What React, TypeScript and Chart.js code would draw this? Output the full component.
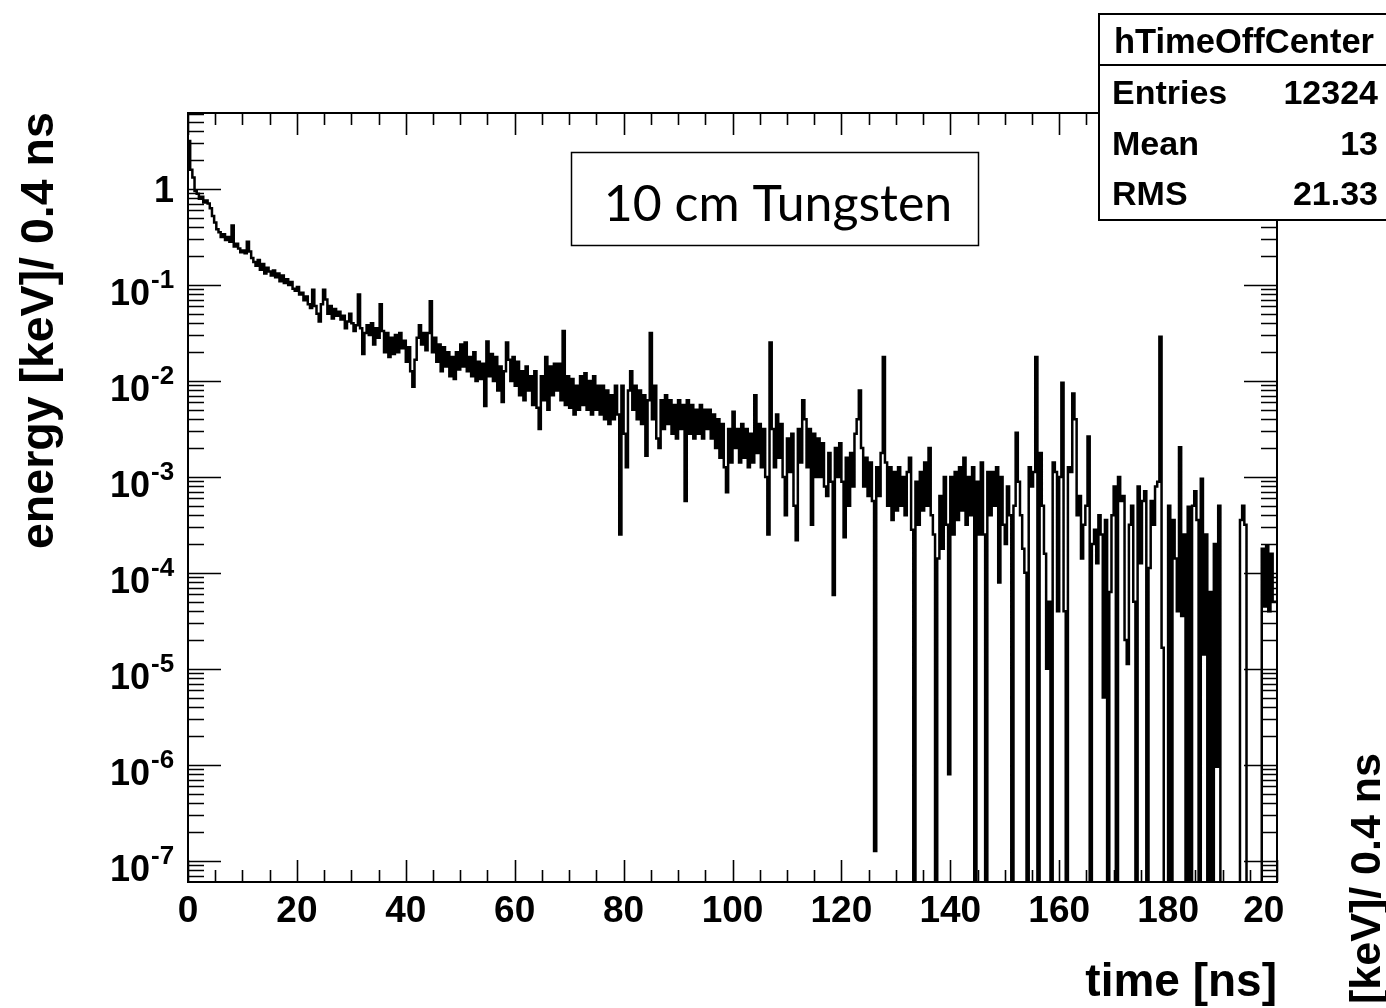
import React, { useEffect, useRef } from 'react';
import { Chart, registerables } from 'chart.js';

Chart.register(...registerables);

// ---- data -------------------------------------------------------------
// Histogram hTimeOffCenter: 500 bins of 0.4 ns from 0 to 200 ns.
// Values, written as log10(energy [keV] / 0.4 ns);
// null = empty bin.
const binWidth = 0.4;
const xMin = 0;
const xMax = 200;
const yMin = 6.4e-8;
const yMax = 6.2;
const emptyBinValue = 1e-12;

const energyLog10: (number | null)[] = [
  0.25, 0.5, 0.2, 0.12, -0.02, -0.05, -0.1, -0.08, -0.14, -0.12,
  -0.15, -0.2, -0.28, -0.35, -0.42, -0.45, -0.5, -0.47, -0.53, -0.5,
  -0.55, -0.38, -0.6, -0.57, -0.62, -0.66, -0.64, -0.67, -0.55, -0.65,
  -0.72, -0.76, -0.8, -0.74, -0.84, -0.78, -0.88, -0.82, -0.86, -0.9,
  -0.85, -0.92, -0.88, -0.96, -0.9, -0.98, -0.94, -1.0, -0.97, -1.04,
  -1.06, -1.02, -1.1, -1.08, -1.16, -1.12, -1.2, -1.24, -1.05, -1.22,
  -1.3, -1.38, -1.2, -1.05, -1.15, -1.3, -1.22, -1.35, -1.25, -1.32,
  -1.28, -1.36, -1.32, -1.45, -1.38, -1.3, -1.4, -1.48, -1.42, -1.1,
  -1.45, -1.72, -1.5, -1.42, -1.52, -1.4, -1.62, -1.45, -1.55, -1.2,
  -1.48, -1.7, -1.5, -1.75, -1.55, -1.72, -1.52, -1.7, -1.5, -1.66,
  -1.58, -1.8, -1.65, -1.9, -2.06, -1.78, -1.55, -1.42, -1.62, -1.5,
  -1.68, -1.5, -1.17, -1.7, -1.55, -1.8, -1.62, -1.9, -1.65, -1.85,
  -1.7, -1.95, -1.75, -1.98, -1.7, -1.88, -1.62, -1.85, -1.6, -1.9,
  -1.75, -1.95, -1.7, -2.0, -1.8, -1.98, -1.82, -2.26, -1.59, -1.95,
  -1.72, -2.0, -1.75, -2.1, -1.85, -2.22, -1.9, -1.6, -1.78, -2.0,
  -1.75, -2.05, -1.8, -2.15, -1.9, -2.2, -1.85, -2.1, -1.95, -2.25,
  -1.9, -2.28, -2.5, -1.95, -2.2, -1.75, -2.3, -1.85, -2.15, -1.82,
  -2.1, -1.82, -2.2, -1.48, -2.25, -1.95, -2.28, -1.98, -2.35, -2.05,
  -2.3, -1.95, -2.25, -1.92, -2.3, -2.0, -2.35, -1.95, -2.3, -2.05,
  -2.35, -2.05, -2.4, -2.1, -2.45, -2.15, -2.4, -2.05, -2.35, -3.6,
  -2.05, -2.55, -2.9, -2.1, -1.9, -2.3, -2.05, -2.4, -2.1, -2.45,
  -2.15, -2.78, -2.2, -1.5, -2.4, -2.05, -2.6, -2.7, -2.2, -2.5,
  -2.15, -2.45, -2.2, -2.55, -2.25, -2.6, -2.2, -2.5, -2.25, -3.25,
  -2.2, -2.55, -2.25, -2.6, -2.3, -2.55, -2.25, -2.6, -2.3, -2.5,
  -2.3, -2.6, -2.35, -2.7, -2.4, -2.8, -2.45, -2.9, -3.16, -2.5,
  -2.85, -2.32, -2.7, -2.5, -2.85, -2.45, -2.8, -2.5, -2.9, -2.55,
  -2.85, -2.15, -2.75, -2.45, -2.9, -2.5, -3.0, -3.6, -1.6, -2.5,
  -2.9, -2.35, -2.8, -2.45, -3.0, -3.4, -2.6, -2.95, -2.55, -3.3,
  -3.66, -2.5, -2.85, -2.2, -2.4, -2.9, -2.5, -3.5, -2.55, -3.0,
  -2.6, -3.0, -2.65, -3.1, -3.2, -2.75, -3.05, -4.23, -2.7, -3.0,
  -2.65, -3.05, -3.63, -2.8, -3.3, -2.75, -3.1, -2.55, -2.4, -2.1,
  -2.7, -3.1, -2.8, -3.2, -2.85, -3.25, -6.9, -2.9, -3.2, -2.75,
  -1.75, -2.85, -3.3, -2.9, -3.45, -2.95, -3.35, -2.9, -3.3, -3.0,
  -3.4, -2.95, -2.8, -3.55, null, -3.05, -3.5, -2.95, -3.35, -2.85,
  -3.3, -2.7, -3.4, -3.6, null, -3.85, -3.2, -3.75, -3.0, -3.5,
  -6.1, -3.0, -3.6, -2.95, -3.45, -2.9, -3.35, -2.8, -3.5, -3.0,
  -3.4, -2.9, null, -3.05, -3.6, -2.85, -3.6, null, -2.95, -3.4,
  -2.95, -3.3, -2.9, -4.1, -3.0, -3.5, -3.7, -3.1, -3.4, null,
  -3.3, -2.54, -3.05, -3.4, -3.75, -4.0, null, -2.9, -3.1, -2.95,
  -1.75, null, -2.75, -3.3, -3.8, -5.0, -4.3, null, -2.85, -2.95,
  -4.4, -3.0, -2.02, -4.4, null, -2.9, -2.95, -2.13, -2.4, -3.4,
  -3.2, -3.85, -3.5, -3.3, -2.58, null, -3.7, -3.55, -3.9, -3.4,
  -3.6, -5.3, -3.45, null, -4.2, -3.4, -3.1, null, -3.0, -3.25,
  -3.2, -4.7, -4.95, -3.5, -3.3, -4.3, null, -3.1, -3.9, -3.25,
  -3.15, null, -3.95, -3.25, -3.5, -3.1, -3.05, -1.54, -4.78, null,
  null, -3.3, null, -3.45, -3.85, -4.4, -2.69, -4.45, -3.6, null,
  -3.31, null, -3.3, -3.15, -3.45, null, -3.02, -4.85, -3.6, null,
  -4.2, null, -3.7, -6.02, -3.3, null, null, null, null, null,
  null, null, null, null, -3.45, -3.3, -3.5, null, null, null,
  null, null, null, null, -3.75, -4.35, -3.72, -4.4, -3.8, -4.3,
];

const xMajorTicks = [0, 20, 40, 60, 80, 100, 120, 140, 160, 180, 200];
const xTickLabels = ['0', '20', '40', '60', '80', '100', '120', '140', '160', '180', '200'];
const xMinorStep = 5;
const yDecades = [0, -1, -2, -3, -4, -5, -6, -7];
const yLabelBase = ['1', '10', '10', '10', '10', '10', '10', '10'];
const yLabelExp = ['', '-1', '-2', '-3', '-4', '-5', '-6', '-7'];

const xTitle = 'time [ns]';
const yTitle = 'energy [keV]/ 0.4 ns';
const statsTitle = 'hTimeOffCenter';
const statsLabels = ['Entries', 'Mean', 'RMS'];
const statsValues = ['12324', '13', '21.33'];
const annotation = '10 cm Tungsten';

// ---- drawing ----------------------------------------------------------
const FONT = '"Liberation Sans", Arial, Helvetica, sans-serif';

const rootStyle = {
  id: 'rootStyle',
  beforeDraw(chart: any) {
    const { ctx, width, height } = chart;
    ctx.save();
    ctx.fillStyle = '#ffffff';
    ctx.fillRect(0, 0, width, height);
    ctx.restore();
  },
  afterDatasetsDraw(chart: any) {
    const { ctx, chartArea: a, scales } = chart;
    const xs = scales.x;
    const ys = scales.y;
    ctx.save();
    ctx.strokeStyle = '#000';
    ctx.lineWidth = 2;
    ctx.strokeRect(a.left, a.top, a.right - a.left, a.bottom - a.top);

    // y ticks (log): decades long, 2..9 short, on both sides
    ctx.lineWidth = 1.6;
    ctx.beginPath();
    for (let e = -8; e <= 1; e++) {
      for (let m = 1; m <= 9; m++) {
        const v = m * Math.pow(10, e);
        if (v < yMin || v > yMax) continue;
        const py = Math.round(ys.getPixelForValue(v)) + 0.5;
        const len = m === 1 ? 33 : 16;
        ctx.moveTo(a.left, py);
        ctx.lineTo(a.left + len, py);
        ctx.moveTo(a.right, py);
        ctx.lineTo(a.right - len, py);
      }
    }
    // x ticks, bottom and top
    for (let t = xMin; t <= xMax; t += xMinorStep) {
      const px = Math.round(xs.getPixelForValue(t)) + 0.5;
      const major = xMajorTicks.includes(t);
      const len = major ? 22 : 12;
      ctx.moveTo(px, a.bottom);
      ctx.lineTo(px, a.bottom - len);
      ctx.moveTo(px, a.top);
      ctx.lineTo(px, a.top + len);
    }
    ctx.stroke();
    ctx.restore();
  },
  afterDraw(chart: any) {
    const { ctx, chartArea: a, scales } = chart;
    const xs = scales.x;
    const ys = scales.y;
    ctx.save();
    ctx.fillStyle = '#000';

    // x tick labels
    ctx.font = `bold 37px ${FONT}`;
    ctx.textAlign = 'center';
    ctx.textBaseline = 'alphabetic';
    xMajorTicks.forEach((t, i) => {
      const px = xs.getPixelForValue(t);
      if (i === xMajorTicks.length - 1) {
        // last label is cut by the pad edge
        ctx.save();
        ctx.beginPath();
        ctx.rect(0, 880, 1284, 60);
        ctx.clip();
        ctx.fillText(xTickLabels[i], px - 3, 922);
        ctx.restore();
      } else {
        ctx.fillText(xTickLabels[i], px, 922);
      }
    });

    // y tick labels
    yDecades.forEach((e, i) => {
      const py = ys.getPixelForValue(Math.pow(10, e));
      if (yLabelExp[i] === '') {
        ctx.font = `bold 36px ${FONT}`;
        ctx.textAlign = 'right';
        ctx.fillText(yLabelBase[i], 174, py + 13);
      } else {
        ctx.font = `bold 36px ${FONT}`;
        ctx.textAlign = 'right';
        ctx.fillText(yLabelBase[i], 150, py + 20);
        ctx.font = `bold 26px ${FONT}`;
        ctx.textAlign = 'left';
        ctx.fillText(yLabelExp[i], 151, py + 3);
      }
    });

    // axis titles
    ctx.font = `bold 46px ${FONT}`;
    ctx.textAlign = 'right';
    ctx.fillText(xTitle, a.right, 996);

    ctx.save();
    ctx.translate(53, 549);
    ctx.rotate(-Math.PI / 2);
    ctx.font = `bold 46.5px ${FONT}`;
    ctx.textAlign = 'left';
    ctx.fillText(yTitle, 0, 0);
    ctx.restore();

    // neighbouring pad's y title, cut by the picture edge
    ctx.save();
    ctx.translate(1380, 753);
    ctx.rotate(-Math.PI / 2);
    ctx.font = `bold 43px ${FONT}`;
    ctx.textAlign = 'right';
    ctx.fillText(yTitle, 0, 0);
    ctx.restore();

    // annotation box
    ctx.fillStyle = '#fff';
    ctx.fillRect(571, 152, 407, 93);
    ctx.strokeStyle = '#000';
    ctx.lineWidth = 1.5;
    ctx.strokeRect(571.5, 152.5, 407, 93);
    ctx.fillStyle = '#000';
    ctx.font = '50px Lato, "Open Sans", sans-serif';
    ctx.textAlign = 'center';
    ctx.fillText(annotation, 778, 221);

    // stats box
    ctx.fillStyle = '#fff';
    ctx.fillRect(1099, 14, 320, 206);
    ctx.strokeStyle = '#000';
    ctx.lineWidth = 2;
    ctx.strokeRect(1099, 14, 320, 206);
    ctx.beginPath();
    ctx.moveTo(1099, 65);
    ctx.lineTo(1400, 65);
    ctx.stroke();
    ctx.fillStyle = '#000';
    ctx.font = `bold 34.5px ${FONT}`;
    ctx.textAlign = 'center';
    ctx.fillText(statsTitle, 1244, 53);
    const rowBase = [104, 155, 205];
    ctx.font = `bold 34px ${FONT}`;
    statsLabels.forEach((lab, i) => {
      ctx.textAlign = 'left';
      ctx.fillText(lab, 1112, rowBase[i]);
      ctx.textAlign = 'right';
      ctx.fillText(statsValues[i], 1378, rowBase[i]);
    });
    ctx.restore();
  },
};

export default function App() {
  const ref = useRef<HTMLCanvasElement | null>(null);

  useEffect(() => {
    if (!ref.current) return;
    const values = energyLog10.map((v) => (v === null ? emptyBinValue : Math.pow(10, v)));
    const points = values.map((y, i) => ({ x: xMin + i * binWidth, y }));
    points.push({ x: xMax, y: values[values.length - 1] });

    const chart = new Chart(ref.current, {
      type: 'line',
      data: {
        datasets: [
          {
            label: 'hTimeOffCenter',
            data: points,
            stepped: 'after',
            borderColor: '#000',
            borderWidth: 2.5,
            pointRadius: 0,
            fill: false,
          } as any,
        ],
      },
      options: {
        animation: false,
        responsive: false,
        devicePixelRatio: 1,
        events: [],
        layout: { padding: { left: 188, right: 109, top: 113, bottom: 126 } },
        plugins: { legend: { display: false }, tooltip: { enabled: false } },
        scales: {
          x: { type: 'linear', min: xMin, max: xMax, display: false },
          y: { type: 'logarithmic', min: yMin, max: yMax, display: false },
        },
      },
      plugins: [rootStyle as any],
    });
    return () => chart.destroy();
  }, []);

  return (
    <div style={{ position: 'fixed', left: 0, top: 0, width: 1386, height: 1008, background: '#fff' }}>
      <canvas ref={ref} width={1386} height={1008} style={{ display: 'block' }} />
    </div>
  );
}
